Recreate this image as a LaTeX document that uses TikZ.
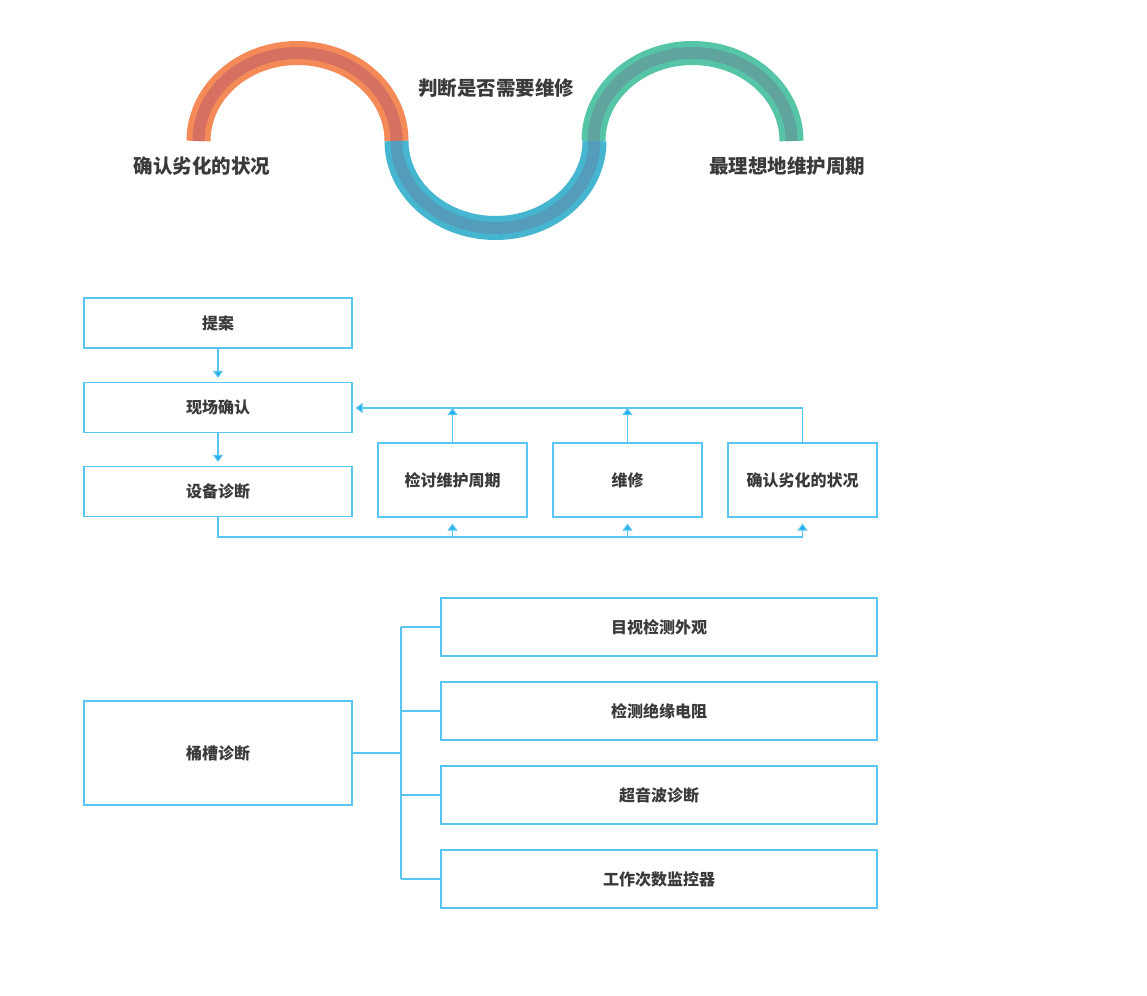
\documentclass[tikz,border=0pt]{standalone}
\usepackage{fontspec}
\newfontfamily\cjk{Noto Sans CJK SC}
\usetikzlibrary{arrows.meta}
\definecolor{lineblue}{RGB}{88,198,243}
\definecolor{arrblue}{RGB}{30,170,235}
\definecolor{txt}{RGB}{58,58,58}
\definecolor{orL}{RGB}{244,138,88}
\definecolor{orD}{RGB}{214,112,96}
\definecolor{blL}{RGB}{70,182,208}
\definecolor{blD}{RGB}{84,156,188}
\definecolor{tlL}{RGB}{86,196,166}
\definecolor{tlD}{RGB}{96,164,158}
\tikzset{
  box/.style={draw=lineblue, line width=1.2pt, inner sep=0pt, font=\cjk\bfseries\fontsize{16}{18}\selectfont, text=txt},
  wide/.style={box, minimum width=268pt, minimum height=50pt},
  small/.style={box, minimum width=149pt, minimum height=74pt},
  rbox/.style={box, minimum width=436pt, minimum height=58pt},
  conn/.style={draw=lineblue, line width=1.2pt},
  arr/.style={conn, -{Triangle[width=10pt,length=7pt,fill=arrblue]}},
  lab/.style={font=\cjk\bfseries\fontsize{19.5}{22}\selectfont, text=txt, inner sep=0pt},
  bandL/.style={line width=24pt},
  bandD/.style={line width=12pt}
}
\begin{document}
\begin{tikzpicture}[x=1pt,y=-1pt]
\useasboundingbox[fill=white] (0,0) rectangle (1147,995);
% wave
\draw[bandL,orL] (198.5,141) arc[start angle=180,end angle=0,x radius=99pt,y radius=88pt];
\draw[bandD,orD] (198.5,141) arc[start angle=180,end angle=0,x radius=99pt,y radius=88pt];
\draw[bandL,blL] (396.5,141) arc[start angle=180,end angle=360,x radius=99pt,y radius=87pt];
\draw[bandD,blD] (396.5,141) arc[start angle=180,end angle=360,x radius=99pt,y radius=87pt];
\draw[bandL,tlL] (593.5,141) arc[start angle=180,end angle=0,x radius=99pt,y radius=88pt];
\draw[bandD,tlD] (593.5,141) arc[start angle=180,end angle=0,x radius=99pt,y radius=88pt];
\node[lab] (l1) at (202,166) {确认劣化的状况};
\node[lab] (l2) at (496,88) {判断是否需要维修};
\node[lab] (l3) at (787,166) {最理想地维护周期};
% flow
\node[wide] (ta) at (218,323) {提案};
\node[wide] (xc) at (218,407.5) {现场确认};
\node[wide] (sb) at (218,491.5) {设备诊断};
\node[small] (jt) at (452.5,480) {检讨维护周期};
\node[small] (wx) at (627.5,480) {维修};
\node[small] (qr) at (802.5,480) {确认劣化的状况};
\coordinate (bl) at (802.5,537);
\coordinate (tl) at (802.5,408);
\draw[arr, shorten >=4pt] (ta.south) -- (xc.north);
\draw[arr, shorten >=4pt] (xc.south) -- (sb.north);
\draw[arr, shorten >=3pt] (qr.north) |- (xc.east |- tl);
\draw[arr] (jt.north) -- (jt.north |- tl);
\draw[arr] (wx.north) -- (wx.north |- tl);
\draw[conn] (sb.south) |- (bl);
\draw[arr, shorten >=6pt] (jt.south |- bl) -- (jt.south);
\draw[arr, shorten >=6pt] (wx.south |- bl) -- (wx.south);
\draw[arr, shorten >=6pt] (bl) -- (qr.south);
% tank diagnosis
\node[wide, minimum height=104pt] (tc) at (218,753) {桶槽诊断};
\node[rbox] (b1) at (659,627) {目视检测外观};
\node[rbox] (b2) at (659,711) {检测绝缘电阻};
\node[rbox] (b3) at (659,795) {超音波诊断};
\node[rbox] (b4) at (659,879) {工作次数监控器};
\coordinate (tr) at (401,753);
\draw[conn] (tc.east) -- (tr);
\draw[conn] (tr |- b1.west) -- (tr |- b4.west);
\draw[conn] (tr |- b1.west) -- (b1.west);
\draw[conn] (tr |- b2.west) -- (b2.west);
\draw[conn] (tr |- b3.west) -- (b3.west);
\draw[conn] (tr |- b4.west) -- (b4.west);
\end{tikzpicture}
\end{document}
